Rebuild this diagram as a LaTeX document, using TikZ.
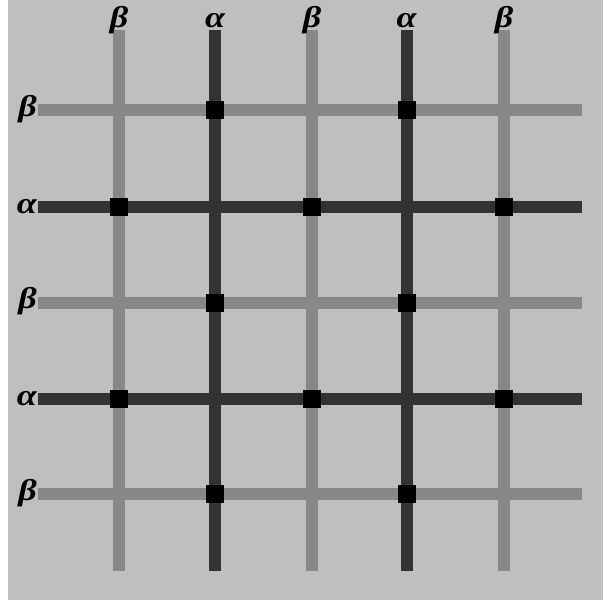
\documentclass[tikz,border=0pt]{standalone}
\usepackage{fontspec}
\newfontfamily\labelfont[FakeStretch=1.2]{Liberation Serif}
\definecolor{bggray}{HTML}{BFBFBF}
\definecolor{lightline}{HTML}{888888}
\definecolor{darkline}{HTML}{333333}
\tikzset{
  betaline/.style={draw=lightline, line width=12pt, line cap=butt},
  alphaline/.style={draw=darkline, line width=12pt, line cap=butt},
  crossbox/.style={fill=black, draw=none, minimum size=18pt, inner sep=0pt, outer sep=0pt},
  toplabel/.style={anchor=base, inner sep=0pt, font=\labelfont\bfseries\itshape\fontsize{30}{32}\selectfont},
  leftlabel/.style={anchor=base east, inner sep=0pt, font=\labelfont\bfseries\itshape\fontsize{30}{32}\selectfont}
}
\begin{document}
\begin{tikzpicture}[x={(1pt,0)}, y={(0,-1pt)}]
\useasboundingbox (0,0) rectangle (603,600);
\fill[white] (0,0) rectangle (603,600);
\fill[bggray] (8,0) rectangle (603,600);
% column and row positions
\def\xa{119}\def\xb{215}\def\xc{312}\def\xd{406.5}\def\xe{504}
\def\ya{110}\def\yb{206.5}\def\yc{302.5}\def\yd{398.5}\def\ye{494}
% end points of vertical lines
\foreach \n/\x in {1/\xa,2/\xb,3/\xc,4/\xd,5/\xe}{
  \coordinate (vt\n) at (\x,29.5);
  \coordinate (vb\n) at (\x,571);
}
% end points of horizontal lines
\foreach \n/\y in {1/\ya,2/\yb,3/\yc,4/\yd,5/\ye}{
  \coordinate (hl\n) at (38,\y);
  \coordinate (hr\n) at (581.5,\y);
}
% vertical lines
\draw[betaline] (vt1) -- (vb1);
\draw[alphaline] (vt2) -- (vb2);
\draw[betaline] (vt3) -- (vb3);
\draw[alphaline] (vt4) -- (vb4);
\draw[betaline] (vt5) -- (vb5);
% horizontal lines
\draw[betaline] (hl1) -- (hr1);
\draw[alphaline] (hl2) -- (hr2);
\draw[betaline] (hl3) -- (hr3);
\draw[alphaline] (hl4) -- (hr4);
\draw[betaline] (hl5) -- (hr5);
% squares at alpha-beta crossings
\foreach \i/\x in {1/\xa,2/\xb,3/\xc,4/\xd,5/\xe}{
  \foreach \j/\y in {1/\ya,2/\yb,3/\yc,4/\yd,5/\ye}{
    \pgfmathtruncatemacro{\s}{mod(\i+\j,2)}
    \ifnum\s=1
      \node[crossbox] (sq\i\j) at (\x,\y) {};
    \fi
  }
}
% top labels
\node[toplabel] (t1) at (\xa,27) {β};
\node[toplabel] (t2) at (\xb,27) {α};
\node[toplabel] (t3) at (\xc,27) {β};
\node[toplabel] (t4) at (\xd,27) {α};
\node[toplabel] (t5) at (\xe,27) {β};
% left labels
\node[leftlabel] (l1) at (37,\ya+6) {β};
\node[leftlabel] (l2) at (37,\yb+6.5) {α};
\node[leftlabel] (l3) at (37,\yc+6) {β};
\node[leftlabel] (l4) at (37,\yd+6.5) {α};
\node[leftlabel] (l5) at (37,\ye+6) {β};
\end{tikzpicture}
\end{document}
